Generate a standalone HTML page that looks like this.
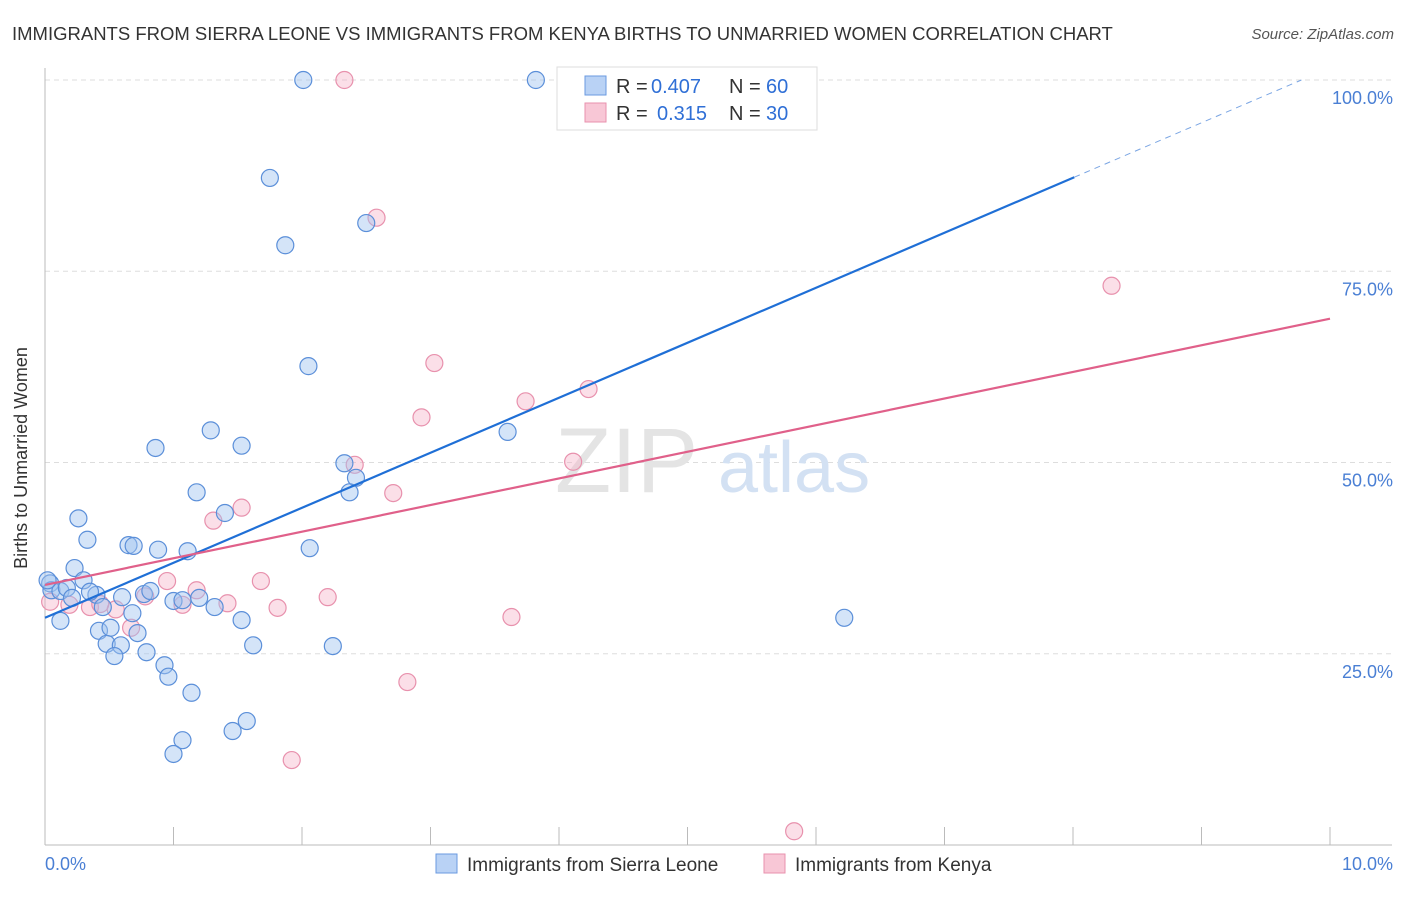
<!DOCTYPE html>
<html><head><meta charset="utf-8"><style>
body{margin:0;background:#fff;font-family:"Liberation Sans",sans-serif}
svg text{font-family:"Liberation Sans",sans-serif}
</style></head><body>
<svg id="chart" width="1406" height="892">
<text x="12" y="40" font-size="18.5" fill="#333">IMMIGRANTS FROM SIERRA LEONE VS IMMIGRANTS FROM KENYA BIRTHS TO UNMARRIED WOMEN CORRELATION CHART</text>
<text x="1394" y="39" font-size="15" fill="#555" text-anchor="end" font-style="italic">Source: ZipAtlas.com</text>
<g id="grid"></g>
<g>
<text x="555" y="492" font-size="92" fill="#e4e4e4" font-family="Liberation Serif,serif">ZIP</text>
<text x="718" y="492" font-size="72" fill="#d3e1f3">atlas</text>
</g>
<g id="pts"></g>
<g id="lines"></g>
<text x="27" y="458" font-size="18" fill="#333" text-anchor="middle" transform="rotate(-90 27 458)">Births to Unmarried Women</text>
<g>
<rect x="557" y="67" width="260" height="63" fill="#fff" stroke="#ddd"/>
<rect x="585" y="76" width="21" height="19" fill="#b9d2f5" stroke="#6a9ae0"/>
<rect x="585" y="103" width="21" height="19" fill="#f8c7d6" stroke="#e892ae"/>
<text x="616" y="93" font-size="20" fill="#333">R =</text>
<text x="651" y="93" font-size="20" fill="#2f6fd6">0.407</text>
<text x="729" y="93" font-size="20" fill="#333">N =</text>
<text x="766" y="93" font-size="20" fill="#2f6fd6">60</text>
<text x="616" y="120" font-size="20" fill="#333">R =</text>
<text x="657" y="120" font-size="20" fill="#2f6fd6">0.315</text>
<text x="729" y="120" font-size="20" fill="#333">N =</text>
<text x="766" y="120" font-size="20" fill="#2f6fd6">30</text>
</g>
<g>
<rect x="436" y="854" width="21" height="19" fill="#b9d2f5" stroke="#6a9ae0"/>
<text x="467" y="871" font-size="19" fill="#333">Immigrants from Sierra Leone</text>
<rect x="764" y="854" width="21" height="19" fill="#f8c7d6" stroke="#e892ae"/>
<text x="795" y="871" font-size="19" fill="#333">Immigrants from Kenya</text>
</g>
</svg>
<script>
const blueX=[2.01,3.82,1.75,1.87,2.50,2.05,1.29,1.53,0.86,3.60,2.33,2.42,2.37,1.18,0.26,1.40,0.33,0.65,0.69,0.88,1.11,2.06,0.23,0.30,0.04,0.05,0.12,0.17,0.40,0.60,0.77,0.82,1.00,1.07,1.20,0.45,1.32,0.68,0.12,0.42,0.51,0.72,1.53,6.22,0.48,0.59,1.62,2.24,0.54,0.79,0.93,0.96,1.14,1.57,1.46,1.07,1.00,0.02,0.21,0.35];
const blueY=[100,100,87.2,78.4,81.3,62.6,54.2,52.2,51.9,54.0,49.9,48.0,46.1,46.1,42.7,43.4,39.9,39.2,39.1,38.6,38.4,38.8,36.2,34.6,34.2,33.3,33.2,33.6,32.7,32.4,32.8,33.2,31.9,32.0,32.3,31.1,31.1,30.3,29.3,28.0,28.4,27.7,29.4,29.7,26.3,26.1,26.1,26.0,24.7,25.2,23.5,22.0,19.9,16.2,14.9,13.7,11.9,34.6,32.3,33.1];
const pinkX=[2.33,2.58,8.30,3.03,4.23,2.93,3.74,4.11,2.41,2.71,1.53,1.31,0.95,1.68,1.18,2.20,0.78,1.07,1.42,1.81,0.55,0.19,0.04,0.35,3.63,0.67,2.82,1.92,5.83,0.43];
const pinkY=[100,82.0,73.1,63.0,59.6,55.9,58.0,50.1,49.7,46.0,44.1,42.4,34.5,34.5,33.3,32.4,32.5,31.4,31.6,31.0,30.8,31.4,31.8,31.1,29.8,28.4,21.3,11.1,1.8,31.5];
const blueTrend=[29.7,7.19];
const pinkTrend=[34.0,3.48];
const yTicks=[25,50,75,100];
const yTickLabels=["25.0%","50.0%","75.0%","100.0%"];
const xTicks=[0,1,2,3,4,5,6,7,8,9,10];
const NS="http://www.w3.org/2000/svg";
const sx=v=>45+v*128.5, sy=v=>845-v*7.65;
function mk(t,a,p){const e=document.createElementNS(NS,t);for(const k in a)e.setAttribute(k,a[k]);p.appendChild(e);return e;}
const grid=document.getElementById('grid');
yTicks.forEach((t,i)=>{
 const l=mk('line',{x1:45,x2:1392,y1:sy(t),y2:sy(t),stroke:'#ddd','stroke-dasharray':'5,4'},grid);
 
 
 const tx=mk('text',{x:1393,y:sy(t)+24,'font-size':18,fill:'#4a7fd4','text-anchor':'end'},grid);
 tx.textContent=yTickLabels[i];
 
 
});
const ax=mk('line',{x1:45,x2:45,y1:68,y2:845,stroke:'#bbb'},grid);


const bx=mk('line',{x1:45,x2:1392,y1:845,y2:845,stroke:'#bbb'},grid);


xTicks.forEach(t=>{
 const l=mk('line',{x1:sx(t),x2:sx(t),y1:827,y2:845,stroke:'#bbb'},grid);
 
 
});
const xl=mk('text',{x:45,y:870,'font-size':18,fill:'#4a7fd4'},grid);xl.textContent='0.0%';


const xr=mk('text',{x:1393,y:870,'font-size':18,fill:'#4a7fd4','text-anchor':'end'},grid);xr.textContent='10.0%';


const pts=document.getElementById('pts');
pinkX.forEach((x,i)=>{
 const c=mk('circle',{cx:sx(x),cy:sy(pinkY[i]),r:8.5,fill:'rgba(245,175,198,0.4)',stroke:'#e891ad','stroke-width':1.2},pts);
 
 
});
blueX.forEach((x,i)=>{
 const c=mk('circle',{cx:sx(x),cy:sy(blueY[i]),r:8.5,fill:'rgba(160,195,240,0.45)',stroke:'#5b8fd9','stroke-width':1.2},pts);
 
 
});
const lines=document.getElementById('lines');
const bEnd=8.01, bDash=(100-blueTrend[0])/blueTrend[1];
const b1=mk('line',{x1:sx(0),y1:sy(blueTrend[0]),x2:sx(bEnd),y2:sy(blueTrend[0]+blueTrend[1]*bEnd),stroke:'#1f6fd6','stroke-width':2.2},lines);


const b2=mk('line',{x1:sx(bEnd),y1:sy(blueTrend[0]+blueTrend[1]*bEnd),x2:sx(bDash),y2:sy(100),stroke:'#7aa5e3','stroke-width':1,'stroke-dasharray':'6,5'},lines);


const p1=mk('line',{x1:sx(0),y1:sy(pinkTrend[0]),x2:sx(10),y2:sy(pinkTrend[0]+pinkTrend[1]*10),stroke:'#e0608a','stroke-width':2.2},lines);


</script>
</body></html>
